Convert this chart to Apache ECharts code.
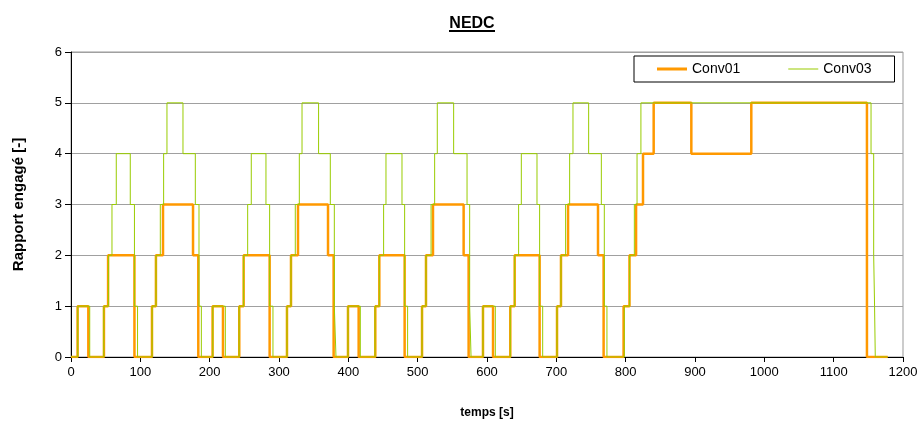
<!DOCTYPE html>
<html>
<head>
<meta charset="utf-8">
<script src="https://cdn.jsdelivr.net/npm/echarts@6/dist/echarts.min.js"></script>
<style>html,body{margin:0;padding:0;background:#fff;}#c{width:921px;height:421px;}</style>
</head>
<body>
<div id="c"></div>
<script>
// Conv01: time of each gear change [s] and gear engaged from that time
var conv01Time = [0, 9.5, 25, 47.5, 53.5, 91.5, 116.8, 122.5, 132.7, 176, 183.6,
  204.2, 219.2, 242.7, 249, 286.5, 311.5, 317.3, 327.4, 370.7, 378.8,
  399.5, 414.9, 438.9, 444.7, 481.2, 506.3, 512, 522.1, 566.3, 573.5,
  594.2, 608.7, 633.6, 639.9, 675.9, 701, 706.7, 716.9, 760.1, 768.2,
  797, 805.5, 815, 825, 840.4, 894.7, 981.2, 1148, 1178];
var conv01Gear = [0, 1, 0, 1, 2, 0, 1, 2, 3, 2, 0,
  1, 0, 1, 2, 0, 1, 2, 3, 2, 0,
  1, 0, 1, 2, 0, 1, 2, 3, 2, 0,
  1, 0, 1, 2, 0, 1, 2, 3, 2, 0,
  1, 2, 3, 4, 5, 4, 5, 0, 0];
// Conv03
var conv03Time = [0, 9.8, 27, 47.3, 54, 59.1, 65.3, 85.5, 91.5, 96, 117, 122.6, 128.8, 133.6, 138.4, 161.5, 179.3, 184.6, 188,
  204.5, 222.6, 242.5, 249, 254.8, 260, 281.2, 286.5, 291.3, 311.5, 317.3, 323.5, 329.3, 333.2, 357.1, 374, 379.8, 382.2,
  399.5, 417.3, 438.5, 444.7, 450.9, 454.3, 477.4, 481.2, 485.5, 506.3, 512, 519.3, 524.5, 528.3, 551.9, 571.2, 575, 577,
  594.2, 612, 633.6, 639.9, 645.6, 649.5, 672.1, 675.9, 680.3, 701, 706.7, 713.4, 719.2, 724, 746.6, 764.9, 769.2, 773,
  798, 805.7, 812.5, 816.4, 822, 1153.9, 1157.7, 1159, 1160, 1178];
var conv03Gear = [0, 1, 0, 1, 2, 3, 4, 3, 1, 0, 1, 2, 3, 4, 5, 4, 3, 1, 0,
  1, 0, 1, 2, 3, 4, 3, 1, 0, 1, 2, 3, 4, 5, 4, 3, 1, 0,
  1, 0, 1, 2, 3, 4, 3, 1, 0, 1, 2, 3, 4, 5, 4, 3, 1, 0,
  1, 0, 1, 2, 3, 4, 3, 1, 0, 1, 2, 3, 4, 5, 4, 3, 1, 0,
  1, 2, 3, 4, 5, 4, 2, 1, 0, 0];
var xTicks = {min: 0, max: 1200, interval: 100};
var yTicks = {min: 0, max: 6, interval: 1};
var seriesNames = ['Conv01', 'Conv03'];

function pairs(t, g) { return t.map(function (v, i) { return [v, g[i]]; }); }

var FONT = 'Arial, "Liberation Sans", sans-serif';
var chart = echarts.init(document.getElementById('c'), null, {renderer: 'canvas'});
chart.setOption({
  animation: false,
  backgroundColor: '#fff',
  title: {
    text: 'NEDC', left: 467, top: 11, textAlign: 'center',
    textStyle: {fontFamily: FONT, fontSize: 16, fontWeight: 'bold', color: '#000'}
  },
  graphic: [{
    type: 'line', shape: {x1: 449, y1: 31, x2: 495, y2: 31},
    style: {stroke: '#000', lineWidth: 2}
  }],
  legend: {
    left: 634, top: 56, orient: 'horizontal',
    padding: [6, 23, 6, 23], itemGap: 48, itemWidth: 30, itemHeight: 12,
    backgroundColor: '#fff', borderColor: '#000', borderWidth: 1,
    textStyle: {fontFamily: FONT, fontSize: 14, color: '#000'},
    data: [
      {name: seriesNames[0], icon: 'path://M0,0L0.001,0ZM0,4.5H30V7.5H0ZM30,12L29.999,12Z', itemStyle: {color: '#ff9900'}},
      {name: seriesNames[1], icon: 'path://M0,0L0.001,0ZM0,5.5H30V6.5H0ZM30,12L29.999,12Z', itemStyle: {color: '#99cc00'}}
    ]
  },
  grid: {left: 71, right: 18, top: 52, bottom: 64, show: true, borderColor: '#999', borderWidth: 1,
    containLabel: false, outerBoundsMode: 'none'},
  xAxis: {
    type: 'value', min: xTicks.min, max: xTicks.max, interval: xTicks.interval,
    name: 'temps [s]', nameLocation: 'middle', nameGap: 50,
    nameTextStyle: {fontFamily: FONT, fontSize: 12, fontWeight: 'bold', color: '#000'},
    axisLine: {show: true, onZero: false, lineStyle: {color: '#000', width: 1}},
    axisTick: {show: true, length: 5, lineStyle: {color: '#000'}},
    axisLabel: {fontFamily: FONT, fontSize: 13, color: '#000', margin: 9,
      formatter: function (v) { return String(v); }},
    splitLine: {show: false}
  },
  yAxis: {
    type: 'value', min: yTicks.min, max: yTicks.max, interval: yTicks.interval,
    name: 'Rapport engagé [-]', nameLocation: 'middle', nameGap: 45, nameRotate: 90,
    nameTextStyle: {fontFamily: FONT, fontSize: 15, fontWeight: 'bold', color: '#000'},
    axisLine: {show: true, lineStyle: {color: '#000', width: 1}},
    axisTick: {show: true, length: 6, lineStyle: {color: '#000'}},
    axisLabel: {fontFamily: FONT, fontSize: 13, color: '#000', margin: 9},
    splitLine: {show: true, lineStyle: {color: '#a0a0a0', width: 1}}
  },
  series: [{
    name: seriesNames[0], type: 'line', step: 'end', symbol: 'none',
    data: pairs(conv01Time, conv01Gear),
    lineStyle: {color: '#ff9900', width: 2.5}, itemStyle: {color: '#ff9900'}, z: 2
  }, {
    name: seriesNames[1], type: 'line', step: 'end', symbol: 'none',
    data: pairs(conv03Time, conv03Gear),
    lineStyle: {color: '#99cc00', width: 1}, itemStyle: {color: '#99cc00'}, z: 3
  }]
});
</script>
</body>
</html>
